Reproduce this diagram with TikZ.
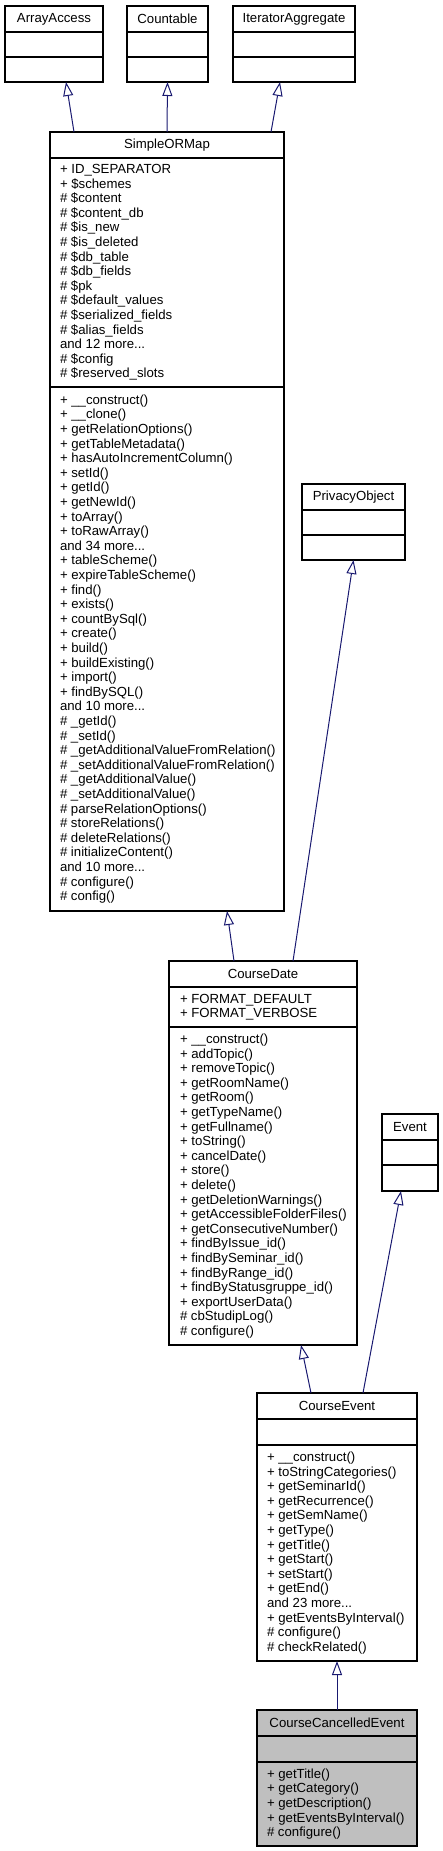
\documentclass[tikz,border=0pt]{standalone}
\usepackage{fontspec}
\setmainfont{Liberation Sans}
\usetikzlibrary{arrows.meta, positioning}
\definecolor{edgeblue}{HTML}{191970}
\definecolor{boxgray}{HTML}{BFBFBF}
\newcommand{\umlfont}{\fontsize{13.2}{14.6}\selectfont}
\tikzset{%
>={Triangle[open,length=14pt,width=10pt]},
  % Specifications for style of nodes:
            head/.style = {rectangle, draw=black, line width=1.1pt, fill=white,
                            inner sep=0pt, outer sep=0pt, minimum height=26pt, font=\umlfont},
            part/.style = {rectangle, draw=black, line width=1.1pt, fill=white,
                            inner sep=0pt, outer sep=0pt},
            members/.style = {inner sep=0pt, outer sep=0pt, align=left, font=\umlfont},
            inherit/.style = {draw=edgeblue, line width=1pt, ->}
}
\begin{document}
\begin{tikzpicture}[x=1pt, y=-1pt, node distance=0pt]
                \useasboundingbox (0,0) rectangle (443,1851);

                \node[head, minimum width=98pt] (aa) at (54,19) {ArrayAccess};
                \node[part, minimum width=98pt, minimum height=25pt, below=of aa] (aa-a) {};
                \node[part, minimum width=98pt, minimum height=25pt, below=of aa-a] (aa-m) {};

                \node[head, minimum width=81pt] (ct) at (167.5,19) {Countable};
                \node[part, minimum width=81pt, minimum height=25pt, below=of ct] (ct-a) {};
                \node[part, minimum width=81pt, minimum height=25pt, below=of ct-a] (ct-m) {};

                \node[head, minimum width=122pt] (ia) at (294,19) {IteratorAggregate};
                \node[part, minimum width=122pt, minimum height=25pt, below=of ia] (ia-a) {};
                \node[part, minimum width=122pt, minimum height=25pt, below=of ia-a] (ia-m) {};

                \node[head, minimum width=234pt] (sorm) at (167,145) {SimpleORMap};
                \node[part, minimum width=234pt, minimum height=229pt, below=of sorm] (sorm-a) {};
                \node[members, right=10pt of sorm-a.west] (sorm-at) {%
                + ID\_SEPARATOR\\ + \$schemes\\ \# \$content\\ \# \$content\_db\\ \# \$is\_new\\
                \# \$is\_deleted\\ \# \$db\_table\\ \# \$db\_fields\\ \# \$pk\\ \# \$default\_values\\
                \# \$serialized\_fields\\ \# \$alias\_fields\\ and 12 more...\\ \# \$config\\
                \# \$reserved\_slots};
                \node[part, minimum width=234pt, minimum height=524pt, below=of sorm-a] (sorm-m) {};
                \node[members, right=10pt of sorm-m.west] (sorm-mt) {%
                + \_\_construct()\\ + \_\_clone()\\ + getRelationOptions()\\ + getTableMetadata()\\
                + hasAutoIncrementColumn()\\ + setId()\\ + getId()\\ + getNewId()\\ + toArray()\\
                + toRawArray()\\ and 34 more...\\ + tableScheme()\\ + expireTableScheme()\\ + find()\\
                + exists()\\ + countBySql()\\ + create()\\ + build()\\ + buildExisting()\\ + import()\\
                + findBySQL()\\ and 10 more...\\ \# \_getId()\\ \# \_setId()\\
                \# \_getAdditionalValueFromRelation()\\ \# \_setAdditionalValueFromRelation()\\
                \# \_getAdditionalValue()\\ \# \_setAdditionalValue()\\ \# parseRelationOptions()\\
                \# storeRelations()\\ \# deleteRelations()\\ \# initializeContent()\\ and 10 more...\\
                \# configure()\\ \# config()};

                \node[head, minimum width=103pt] (po) at (353.5,497) {PrivacyObject};
                \node[part, minimum width=103pt, minimum height=25pt, below=of po] (po-a) {};
                \node[part, minimum width=103pt, minimum height=25pt, below=of po-a] (po-m) {};

                \node[head, minimum width=188pt] (cd) at (263,974) {CourseDate};
                \node[part, minimum width=188pt, minimum height=40pt, below=of cd] (cd-a) {};
                \node[members, right=11pt of cd-a.west] (cd-at) {%
                + FORMAT\_DEFAULT\\ + FORMAT\_VERBOSE};
                \node[part, minimum width=188pt, minimum height=318pt, below=of cd-a] (cd-m) {};
                \node[members, right=11pt of cd-m.west] (cd-mt) {%
                + \_\_construct()\\ + addTopic()\\ + removeTopic()\\ + getRoomName()\\ + getRoom()\\
                + getTypeName()\\ + getFullname()\\ + toString()\\ + cancelDate()\\ + store()\\
                + delete()\\ + getDeletionWarnings()\\ + getAccessibleFolderFiles()\\
                + getConsecutiveNumber()\\ + findByIssue\_id()\\ + findBySeminar\_id()\\
                + findByRange\_id()\\ + findByStatusgruppe\_id()\\ + exportUserData()\\
                \# cbStudipLog()\\ \# configure()};

                \node[head, minimum width=56pt] (ev) at (410,1127) {Event};
                \node[part, minimum width=56pt, minimum height=25pt, below=of ev] (ev-a) {};
                \node[part, minimum width=56pt, minimum height=26pt, below=of ev-a] (ev-m) {};

                \node[head, minimum width=160pt] (ce) at (337,1406) {CourseEvent};
                \node[part, minimum width=160pt, minimum height=26pt, below=of ce] (ce-a) {};
                \node[part, minimum width=160pt, minimum height=216pt, below=of ce-a] (ce-m) {};
                \node[members, right=10pt of ce-m.west] (ce-mt) {%
                + \_\_construct()\\ + toStringCategories()\\ + getSeminarId()\\ + getRecurrence()\\
                + getSemName()\\ + getType()\\ + getTitle()\\ + getStart()\\ + setStart()\\
                + getEnd()\\ and 23 more...\\ + getEventsByInterval()\\ \# configure()\\
                \# checkRelated()};

                \node[head, fill=boxgray, minimum width=160pt] (cce) at (337,1723) {CourseCancelledEvent};
                \node[part, fill=boxgray, minimum width=160pt, minimum height=26pt, below=of cce] (cce-a) {};
                \node[part, fill=boxgray, minimum width=160pt, minimum height=84pt, below=of cce-a] (cce-m) {};
                \node[members, right=10pt of cce-m.west] (cce-mt) {%
                + getTitle()\\ + getCategory()\\ + getDescription()\\ + getEventsByInterval()\\
                \# configure()};

                \draw[inherit] ([xshift=-93pt]sorm.north) -- ([xshift=12pt]aa-m.south);
                \draw[inherit] (sorm.north) -- (ct-m.south);
                \draw[inherit] ([xshift=104pt]sorm.north) -- ([xshift=-14pt]ia-m.south);
                \draw[inherit] ([xshift=-29pt]cd.north) -- ([xshift=60pt]sorm-m.south);
                \draw[inherit] ([xshift=30pt]cd.north) -- (po-m.south);
                \draw[inherit] ([xshift=-26pt]ce.north) -- ([xshift=38pt]cd-m.south);
                \draw[inherit] ([xshift=26pt]ce.north) -- ([xshift=-9pt]ev-m.south);
                \draw[inherit] (cce.north) -- (ce-m.south);

            \end{tikzpicture}
\end{document}
